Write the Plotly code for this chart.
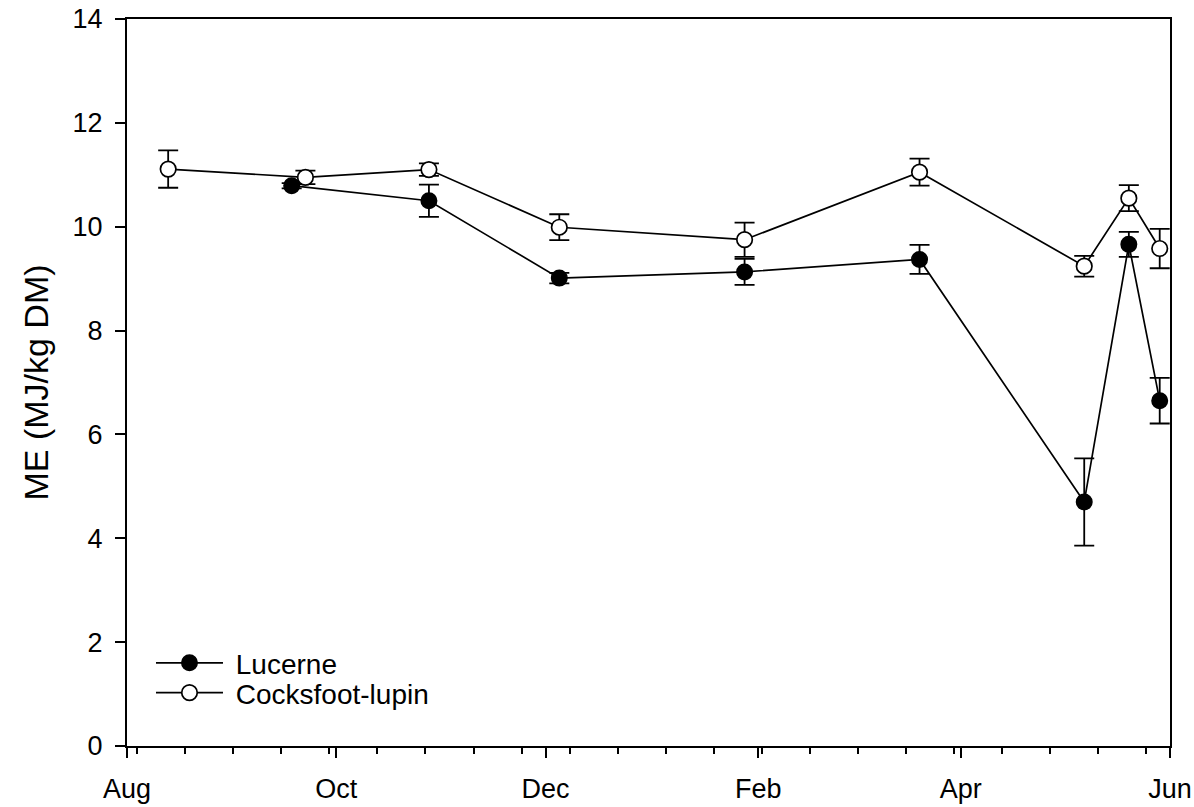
import plotly.graph_objects as go

# ---- data ----
lucerne_dates = ['2010-09-18', '2010-10-28', '2010-12-05', '2011-01-28',
                 '2011-03-20', '2011-05-07', '2011-05-20', '2011-05-29']
lucerne_me = [10.79, 10.50, 9.01, 9.13, 9.37, 4.70, 9.66, 6.65]
lucerne_err = [0.05, 0.31, 0.10, 0.25, 0.28, 0.84, 0.24, 0.44]

cocksfoot_dates = ['2010-08-13', '2010-09-22', '2010-10-28', '2010-12-05',
                   '2011-01-28', '2011-03-20', '2011-05-07', '2011-05-20',
                   '2011-05-29']
cocksfoot_me = [11.11, 10.95, 11.10, 9.99, 9.75, 11.05, 9.24, 10.55, 9.58]
cocksfoot_err = [0.36, 0.13, 0.12, 0.25, 0.33, 0.26, 0.20, 0.25, 0.38]

x_tickvals = ['2010-08-01', '2010-10-01', '2010-12-01', '2011-02-01',
              '2011-04-01', '2011-06-01']
x_ticktext = ['Aug', 'Oct', 'Dec', 'Feb', 'Apr', 'Jun']
y_tickvals = [0, 2, 4, 6, 8, 10, 12, 14]

FONT = 'Liberation Sans, Arial, sans-serif'
NB = '\u00a0'

fig = go.Figure()

fig.add_trace(go.Scatter(
    x=lucerne_dates, y=lucerne_me, name=NB + 'Lucerne', mode='lines+markers',
    line=dict(color='black', width=1.7),
    marker=dict(symbol='circle', size=15.5, color='black',
                line=dict(color='black', width=1.5)),
    error_y=dict(type='data', array=lucerne_err, visible=True,
                 color='black', thickness=1.8, width=10),
    cliponaxis=False, legend='legend',
))

fig.add_trace(go.Scatter(
    x=cocksfoot_dates, y=cocksfoot_me, name=NB + 'Cocksfoot-lupin',
    mode='lines+markers',
    line=dict(color='black', width=1.7),
    marker=dict(symbol='circle', size=15.5, color='white',
                line=dict(color='black', width=1.7)),
    error_y=dict(type='data', array=cocksfoot_err, visible=True,
                 color='black', thickness=1.8, width=10),
    cliponaxis=False, legend='legend2',
))

leg_common = dict(xanchor='left', yanchor='middle',
                  bgcolor='rgba(0,0,0,0)', font=dict(size=28),
                  itemwidth=67, tracegroupgap=0)

fig.update_layout(
    width=1194, height=807,
    margin=dict(l=127, r=24, t=19, b=61),
    paper_bgcolor='white', plot_bgcolor='white',
    font=dict(family=FONT, size=27, color='black'),
    showlegend=True,
    legend=dict(x=0.023, y=0.114, **leg_common),
    legend2=dict(x=0.023, y=0.073, **leg_common),
)

fig.update_xaxes(
    type='date', range=['2010-08-01', '2011-06-01'],
    tickmode='array', tickvals=x_tickvals, ticktext=x_ticktext,
    ticks='outside', ticklen=10, tickwidth=2, tickcolor='black',
    showline=True, linecolor='black', linewidth=2, mirror=True,
    showgrid=False, zeroline=False, automargin=False,
    tickfont=dict(size=27), ticklabelstandoff=8,
    minor=dict(dtick=14 * 86400000, tick0='2010-08-04', ticks='outside',
               ticklen=6, tickwidth=2, tickcolor='black', showgrid=False),
)

fig.update_yaxes(
    range=[0, 14], tickmode='array', tickvals=y_tickvals,
    ticks='outside', ticklen=10, tickwidth=2, tickcolor='black',
    showline=True, linecolor='black', linewidth=2, mirror=True,
    showgrid=False, zeroline=False, automargin=False,
    tickfont=dict(size=27), ticklabelstandoff=7,
    title=dict(text='ME (MJ/kg DM)', font=dict(size=34), standoff=14),
)

fig.write_html('out.html')
